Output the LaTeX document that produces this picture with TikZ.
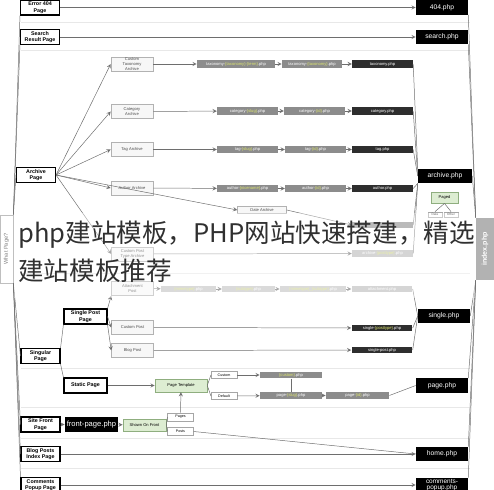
\documentclass[tikz,border=0pt]{standalone}
\usepackage{fontspec}
\setmainfont{Liberation Sans}
\newfontfamily\cjk{Noto Sans CJK SC}
\usepackage{graphicx}
\usetikzlibrary{arrows}

\definecolor{tplgray}{HTML}{8C8C8C}
\definecolor{tpldark}{HTML}{2E2E2E}
\definecolor{tpllight}{HTML}{C2C2C2}
\definecolor{tplyellow}{HTML}{DDE66E}
\definecolor{tplgreen}{HTML}{DDEDD2}
\definecolor{tplgreenline}{HTML}{8FAE7F}
\definecolor{linegray}{HTML}{6E6E6E}
\definecolor{wmgray}{HTML}{303030}

\newcommand{\tplvar}[1]{\textcolor{tplyellow}{#1}}

\begin{document}
\begin{tikzpicture}[
            x=0.025cm, y=-0.025cm,
            page/.style={
                rectangle,
                draw=black,
                line width=0.9pt,
                fill=white,
                minimum width=0.97cm,
                minimum height=0.37cm,
                inner sep=0pt,
                align=center,
                font=\fontsize{3.8}{4.6}\selectfont\bfseries
            },
            php/.style={
                rectangle,
                fill=black,
                text=white,
                minimum width=1.3cm,
                minimum height=0.36cm,
                inner sep=0pt,
                align=center,
                font=\fontsize{4.8}{5.2}\selectfont
            },
            kind/.style={
                rectangle,
                draw=gray!60,
                fill=gray!6,
                text=gray!60!black,
                minimum width=1.05cm,
                minimum height=0.35cm,
                inner sep=0pt,
                align=center,
                font=\fontsize{2.9}{3.4}\selectfont
            },
            file/.style={
                rectangle,
                fill=tplgray,
                text=white,
                minimum width=1.52cm,
                minimum height=0.19cm,
                inner sep=0pt,
                font=\fontsize{2.9}{3}\selectfont
            },
            darkfile/.style={file, fill=tpldark},
            lightfile/.style={file, fill=tpllight, minimum height=0.17cm},
            tpl/.style={
                rectangle,
                draw=tplgreenline,
                fill=tplgreen,
                minimum height=0.32cm,
                inner sep=0pt,
                align=center,
                font=\fontsize{2.9}{3.2}\selectfont
            },
            choice/.style={
                rectangle,
                draw=gray!70,
                fill=white,
                minimum width=0.64cm,
                minimum height=0.17cm,
                inner sep=0pt,
                font=\fontsize{2.6}{3}\selectfont
            },
            link/.style={draw=linegray, line width=0.35pt},
            arrow/.style={link, ->, >=stealth},
            sep/.style={draw=gray!18, line width=0.4pt}
        ]
        \useasboundingbox (0,0) rectangle (494,490);

        % Row separators
        \draw[sep] (21,22) -- (470,22);
        \draw[sep] (21,50) -- (470,50);
        \draw[sep] (21,273) -- (470,273);
        \draw[sep] (21,368) -- (470,368);
        \draw[sep] (21,407) -- (470,407);
        \draw[sep] (21,438) -- (470,438);
        \draw[sep] (21,468) -- (470,468);

        % What page box
        \node[rectangle, draw=gray!50, fill=white, text=gray, minimum width=0.33cm, minimum height=1.7cm, inner sep=0pt, font=\fontsize{4}{4}\selectfont] (what) at (6.5,249) {\rotatebox{90}{What Page?}};

        % Left column pages
        \node[page] (err) at (40,7.5) {Error 404\\Page};
        \node[page] (srch) at (40,37) {Search\\Result Page};
        \node[page] (arch) at (36,175) {Archive\\Page};
        \node[page, minimum width=1.07cm] (spost) at (85.5,316.5) {Single Post\\Page};
        \node[page] (sing) at (40.5,356) {Singular\\Page};
        \node[page, minimum width=1.07cm] (stat) at (85.5,385.5) {Static Page};
        \node[page] (front) at (40.5,424.5) {Site Front\\Page};
        \node[page] (blog) at (40.5,454) {Blog Posts\\Index Page};
        \node[page] (comm) at (40.5,485) {Comments\\Popup Page};

        % Right column templates
        \node[php] (p404) at (442,7.5) {404.php};
        \node[php] (psrch) at (442,37) {search.php};
        \node[php, minimum width=1.35cm] (parch) at (445,176) {archive.php};
        \node[php] (psing) at (444,316) {single.php};
        \node[php] (ppage) at (442,385.5) {page.php};
        \node[php] (phome) at (442,454) {home.php};
        \node[php, font=\fontsize{4.6}{4.8}\selectfont] (pcomm) at (442,485) {comments-\\popup.php};
        \node[rectangle, fill=gray!60, text=white, minimum width=0.45cm, minimum height=1.55cm, inner sep=0pt, font=\fontsize{5}{5}\selectfont\bfseries] (index) at (485,249) {\rotatebox{90}{index.php}};

        % Archive kinds
        \node[kind] (ktax) at (132,64) {Custom\\Taxonomy\\Archive};
        \node[kind] (kcat) at (132,111.5) {Category\\Archive};
        \node[kind] (ktag) at (132,149.5) {Tag Archive};
        \node[kind] (kauth) at (132,188) {Author Archive};
        \node[kind, minimum width=1.22cm, minimum height=0.17cm] (kdate) at (262,210) {Date Archive};
        \node[kind] (kcpt) at (132.5,254) {Custom Post\\Type Archive};

        % Single kinds
        \node[kind] (katt) at (132.5,288.5) {Attachment\\Post};
        \node[kind] (kcust) at (132.5,327.5) {Custom Post};
        \node[kind] (kblog) at (132.5,350.5) {Blog Post};

        % Taxonomy, category, tag and author files
        \node[file, minimum width=1.95cm] (tax1) at (236,64) {taxonomy-\tplvar{\{taxonomy\}-\{term\}}.php};
        \node[file, minimum width=1.5cm] (tax2) at (312,64) {taxonomy-\tplvar{\{taxonomy\}}.php};
        \node[darkfile] (tax3) at (382.5,64) {taxonomy.php};
        \node[file] (cat1) at (247.5,111) {category-\tplvar{\{slug\}}.php};
        \node[file] (cat2) at (314.5,111) {category-\tplvar{\{id\}}.php};
        \node[darkfile] (cat3) at (382.5,111) {category.php};
        \node[file] (tag1) at (247.5,149.5) {tag-\tplvar{\{slug\}}.php};
        \node[file] (tag2) at (315.5,149.5) {tag-\tplvar{\{id\}}.php};
        \node[darkfile] (tag3) at (382.5,149.5) {tag.php};
        \node[file] (auth1) at (247.5,188.5) {author-\tplvar{\{nicename\}}.php};
        \node[file] (auth2) at (315.5,188.5) {author-\tplvar{\{id\}}.php};
        \node[darkfile] (auth3) at (382.5,188.5) {author.php};
        \node[file, minimum height=0.16cm] (date) at (382.5,225) {};
        \node[file, fill=gray!55, minimum height=0.17cm] (acpt) at (382.5,253.5) {archive-\tplvar{\{posttype\}}.php};

        % Paged
        \node[tpl, minimum width=0.68cm, minimum height=0.28cm] (paged) at (444.5,197.5) {Paged};
        \node[choice, minimum width=0.35cm, minimum height=0.13cm, font=\fontsize{2.2}{2.4}\selectfont] (pdate) at (435,214.5) {Date};
        \node[choice, minimum width=0.35cm, minimum height=0.13cm, font=\fontsize{2.2}{2.4}\selectfont] (pother) at (451,214.5) {Other};

        % Attachment and single files
        \node[lightfile, minimum width=1.38cm] (att1) at (188.5,289) {\tplvar{\{mimetype\}}.php};
        \node[lightfile, minimum width=1.32cm] (att2) at (248.5,289) {\tplvar{\{subtype\}}.php};
        \node[lightfile, minimum width=1.65cm] (att3) at (313,289) {\tplvar{\{mimetype\}\_\{subtype\}}.php};
        \node[file, fill=gray!55, minimum height=0.17cm] (att4) at (382,289) {attachment.php};
        \node[darkfile, minimum height=0.17cm] (scpt) at (382,328) {single-\tplvar{\{posttype\}}.php};
        \node[darkfile, minimum height=0.17cm] (spst) at (382,350) {single-post.php};

        % Page files
        \node[tpl, minimum width=1.3cm] (ptpl) at (181,385.5) {Page Template};
        \node[choice] (ccust) at (224,375) {Custom};
        \node[choice] (cdef) at (224,396) {Default};
        \node[file, minimum width=1.55cm, minimum height=0.17cm] (pcust) at (291,375) {\tplvar{\{custom\}}.php};
        \node[file, minimum width=1.55cm, minimum height=0.17cm] (pslug) at (291,395.5) {page-\tplvar{\{slug\}}.php};
        \node[file, minimum width=1.58cm, minimum height=0.17cm] (pid) at (357.5,395.5) {page-\tplvar{\{id\}}.php};

        % Front page
        \node[php, minimum width=1.33cm, font=\fontsize{5.4}{6}\selectfont] (fpage) at (91.5,424.5) {front-page.php};
        \node[tpl, minimum width=1.08cm, minimum height=0.3cm] (show) at (144.5,425) {Shown On Front};
        \node[choice, minimum height=0.2cm] (cpages) at (180.5,417) {Pages};
        \node[choice, minimum height=0.2cm] (cposts) at (180.5,431.5) {Posts};

        % What page links
        \draw[link] (what.north east) -- (err.south west);
        \draw[link] (what.north east) -- (srch.south west);
        \draw[link] (what.north east) -- (arch.west);
        \draw[link] (what.south east) -- (sing.west);
        \draw[link] (what.south east) -- (front.west);
        \draw[link] (what.south east) -- (blog.west);
        \draw[link] (what.south east) -- (comm.north west);

        % Direct templates
        \draw[arrow] (err) -- (p404);
        \draw[arrow] (srch) -- (psrch);
        \draw[arrow] (blog) -- (phome);
        \draw[arrow] (comm) -- (pcomm);

        % Archive fan
        \draw[arrow] (arch.east) -- (ktax.west);
        \draw[arrow] (arch.east) -- (kcat.west);
        \draw[arrow] (arch.east) -- (ktag.west);
        \draw[arrow] (arch.east) -- (kauth.west);
        \draw[arrow] (arch.east) -- (kdate.west);
        \draw[arrow] (arch.east) -- (kcpt.west);

        % Archive rows
        \draw[arrow] (ktax) -- (tax1);
        \draw[arrow] (tax1) -- (tax2);
        \draw[arrow] (tax2) -- (tax3);
        \draw[arrow] (kcat) -- (cat1);
        \draw[arrow] (cat1) -- (cat2);
        \draw[arrow] (cat2) -- (cat3);
        \draw[arrow] (ktag) -- (tag1);
        \draw[arrow] (tag1) -- (tag2);
        \draw[arrow] (tag2) -- (tag3);
        \draw[arrow] (kauth) -- (auth1);
        \draw[arrow] (auth1) -- (auth2);
        \draw[arrow] (auth2) -- (auth3);
        \draw[arrow] (kdate.east) -- (date.west);
        \draw[arrow] (kcpt) -- (acpt);
        \draw[link] (tax3.east) -- (parch.north west);
        \draw[link] (cat3.east) -- (parch.west);
        \draw[link] (tag3.east) -- (parch.west);
        \draw[link] (auth3.east) -- (parch.south west);
        \draw[link] (date.east) -- (parch.south west);
        \draw[link] (acpt.east) -- (parch.south west);
        \draw[link] (paged.south) -- (pdate.north);
        \draw[link] (paged.south) -- (pother.north);

        % Singular
        \draw[link] (sing.north east) -- (spost.south west);
        \draw[link] (sing.south east) -- (stat.north west);
        \draw[arrow] (spost.north east) -- (katt.south west);
        \draw[arrow] (spost.east) -- (kcust.west);
        \draw[arrow] (spost.south east) -- (kblog.west);
        \draw[arrow] (katt) -- (att1);
        \draw[arrow] (att1) -- (att2);
        \draw[arrow] (att2) -- (att3);
        \draw[arrow] (att3) -- (att4);
        \draw[arrow] (kcust) -- (scpt);
        \draw[arrow] (kblog) -- (spst);
        \draw[link] (att4.east) -- (psing.west);
        \draw[link] (scpt.east) -- (psing.west);
        \draw[link] (spst.east) -- (psing.west);

        % Static page
        \draw[arrow] (stat) -- (ptpl);
        \draw[link] (ptpl.east) -- (ccust.west);
        \draw[link] (ptpl.east) -- (cdef.west);
        \draw[arrow] (ccust) -- (pcust);
        \draw[arrow] (cdef) -- (pslug);
        \draw[link] (pcust) -- (pslug);
        \draw[arrow] (pslug) -- (pid);
        \draw[link] (pid.east) -- (ppage.west);

        % Site front page
        \draw[arrow] (front) -- (fpage);
        \draw[arrow] (fpage) -- (show);
        \draw[link] (show.east) -- (cpages.west);
        \draw[link] (show.east) -- (cposts.west);
        \draw[arrow] (cpages) -- (ptpl);
        \draw[link] (cposts.east) -- (phome.west);

        % Fallback to index
        \draw[link] (p404.south east) -- (index.north west);
        \draw[link] (psrch.south east) -- (index.north west);
        \draw[link] (parch.east) -- (index.north west);
        \draw[link] (psing.east) -- (index.south west);
        \draw[link] (ppage.north east) -- (index.south west);
        \draw[link] (phome.north east) -- (index.south west);
        \draw[link] (pcomm.north east) -- (index.south west);

        % Overlay caption, with a faint veil behind it
        \fill[white, opacity=0.4] (14,213) rectangle (475,298);
        \node[anchor=base west, inner sep=0pt, text=wmgray, font=\cjk\fontsize{18.2}{22}\selectfont] (wm1) at (18,243) {php建站模板，PHP网站快速搭建，精选};
        \node[anchor=base west, inner sep=0pt, text=wmgray, font=\cjk\fontsize{18.2}{22}\selectfont] (wm2) at (18,281) {建站模板推荐};

        \end{tikzpicture}
\end{document}
